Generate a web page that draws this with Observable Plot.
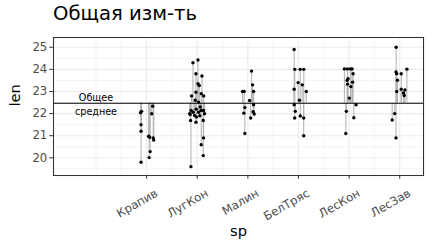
<!DOCTYPE html>
<html>
<head>
<meta charset="utf-8">
<script src="https://cdn.jsdelivr.net/npm/d3@7"></script>
<script src="https://cdn.jsdelivr.net/npm/@observablehq/plot@0.6"></script>
<style>
  body { margin: 0; background: #fff; }
  #wrap { position: relative; width: 432px; height: 252px; }
  #title { position: absolute; left: 53px; top: 2px; font-family: "DejaVu Sans", sans-serif; font-size: 19.6px; color: #000; white-space: nowrap; }
  svg { position: absolute; left: 0; top: 0; }
</style>
</head>
<body>
<div id="wrap"><div id="title">Общая изм-ть</div></div>
<script>
const categories = ["Крапив", "ЛугКон", "Малин", "БелТряс", "ЛесКон", "ЛесЗав"];
const overallMean = 22.47;
const meanLabel = "Общее\nсреднее";
const xTitle = "sp";
const yTitle = "len";

// jittered x position (category index + jitter) and value for each observation
const krapivX   = [0.88, 0.90, 0.89, 0.89, 0.89, 1.04, 1.06, 1.07, 1.05, 1.10, 1.12, 1.13, 1.14];
const krapivLen = [22.04, 22.10, 21.50, 21.20, 19.80, 20.98, 20.93, 20.28, 20.01, 21.99, 22.33, 20.90, 20.80];

const lugkonX   = [1.915, 2.014, 1.974, 2.093, 2.014, 2.04, 1.974, 1.887, 2.079, 2.128, 1.96, 2.026, 1.88, 1.86, 1.92, 1.947, 1.986, 2.026, 2.079, 2.125, 2.144, 1.868, 1.974, 2.119, 2.125, 2.079, 2.119, 1.875, 1.85, 2.05, 2.06, 1.98];
const lugkonLen = [24.30, 24.42, 23.80, 23.70, 23.35, 23.27, 22.97, 22.80, 22.90, 22.80, 22.60, 22.52, 22.14, 21.96, 22.06, 21.91, 21.84, 22.06, 22.14, 22.14, 21.99, 21.69, 21.61, 21.69, 20.90, 20.59, 20.10, 19.60, 22.00, 21.90, 22.30, 22.20];

const malinX   = [3.073, 3.093, 2.895, 2.927, 3.113, 3.034, 3.113, 2.941, 2.921, 3.103, 3.125, 3.055, 2.941];
const malinLen = [23.92, 23.30, 23.00, 23.00, 23.00, 22.59, 22.40, 22.27, 22.02, 22.08, 21.98, 21.80, 21.10];

const beltryasX   = [3.915, 3.927, 4.034, 4.105, 3.994, 4.075, 3.915, 4.154, 4.02, 3.915, 3.937, 3.925, 4.036, 4.103, 4.103];
const beltryasLen = [24.90, 24.00, 24.00, 24.00, 23.40, 23.30, 23.10, 23.00, 22.60, 22.40, 22.10, 21.80, 21.89, 21.80, 21.00];

const leskonX   = [4.907, 4.968, 5.028, 5.059, 5.079, 4.98, 4.96, 5.069, 4.97, 5.036, 5.004, 5.138, 4.947, 5.093, 4.935];
const leskonLen = [24.02, 24.02, 24.02, 24.02, 23.80, 23.58, 23.50, 23.42, 23.33, 23.22, 22.70, 22.40, 22.10, 21.81, 21.10];

const leszavX   = [5.931, 5.927, 5.941, 6.03, 6.142, 5.955, 5.941, 6.03, 6.103, 6.075, 6.089, 5.901, 5.852, 5.927];
const leszavLen = [25.00, 23.88, 23.80, 23.80, 24.01, 23.51, 23.00, 23.10, 23.07, 22.93, 22.82, 22.00, 21.71, 20.90];

const groups = [
  [krapivX, krapivLen], [lugkonX, lugkonLen], [malinX, malinLen],
  [beltryasX, beltryasLen], [leskonX, leskonLen], [leszavX, leszavLen]
];
const data = groups.flatMap(([xs, ys], gi) => xs.map((x, i) => ({sp: categories[gi], x, len: ys[i]})));

const xMajor = [1, 2, 3, 4, 5, 6];
const xMinor = [0, 0.5, 1.5, 2.5, 3.5, 4.5, 5.5, 6.5];
const yMajor = [20, 21, 22, 23, 24, 25];
const yMinor = [19.5, 20.5, 21.5, 22.5, 23.5, 24.5];

const font = "'DejaVu Sans', sans-serif";

const chart = Plot.plot({
  width: 432,
  height: 252,
  marginLeft: 53,
  marginRight: 9,
  marginTop: 37,
  marginBottom: 77,
  style: {fontFamily: font, background: "transparent"},
  x: {type: "linear", domain: [-0.84, 6.47]},
  y: {domain: [19.2, 25.44]},
  marks: [
    Plot.ruleX(xMinor, {stroke: "#EBEBEB", strokeWidth: 0.55}),
    Plot.ruleY(yMinor, {stroke: "#EBEBEB", strokeWidth: 0.55}),
    Plot.ruleX(xMajor, {stroke: "#EBEBEB", strokeWidth: 1.1}),
    Plot.ruleY(yMajor, {stroke: "#EBEBEB", strokeWidth: 1.1}),
    Plot.ruleX(data, {x: "x", y1: overallMean, y2: "len", stroke: "#B3B3B3", strokeWidth: 1.05}),
    Plot.ruleY([overallMean], {stroke: "#000", strokeWidth: 1.05}),
    Plot.dot(data, {x: "x", y: "len", r: 1.7, fill: "#000", stroke: "none"}),
    Plot.text([0], {x: 0, y: overallMean, text: () => meanLabel, lineHeight: 1.45, fontSize: 9.6, fill: "#000"}),
    Plot.frame({stroke: "#333333", strokeWidth: 1.05}),
    Plot.axisY({ticks: yMajor, tickFormat: d => String(d), tickSize: 3.7, tickPadding: 2.5, fontSize: 11.7,
      stroke: "#333333", fill: "#4D4D4D", label: null}),
    // x ticks only
    Plot.axisX({ticks: xMajor, tickFormat: () => "", tickSize: 3.7, stroke: "#333333", label: null}),
    // x tick labels, rotated
    Plot.axisX({ticks: xMajor, tickFormat: d => categories[d - 1], tickRotate: -30, tickSize: 0, tickPadding: 6.7,
      fontSize: 11.7, fill: "#4D4D4D", label: null, dx: 10, dy: 10}),
    Plot.text([yTitle], {text: d => d, frameAnchor: "left", rotate: -90, dx: -38, fontSize: 14.7, fill: "#000"}),
    Plot.text([xTitle], {text: d => d, frameAnchor: "bottom", dy: 60, fontSize: 14.7, fill: "#000"})
  ]
});
document.getElementById("wrap").appendChild(chart);
</script>
</body>
</html>
